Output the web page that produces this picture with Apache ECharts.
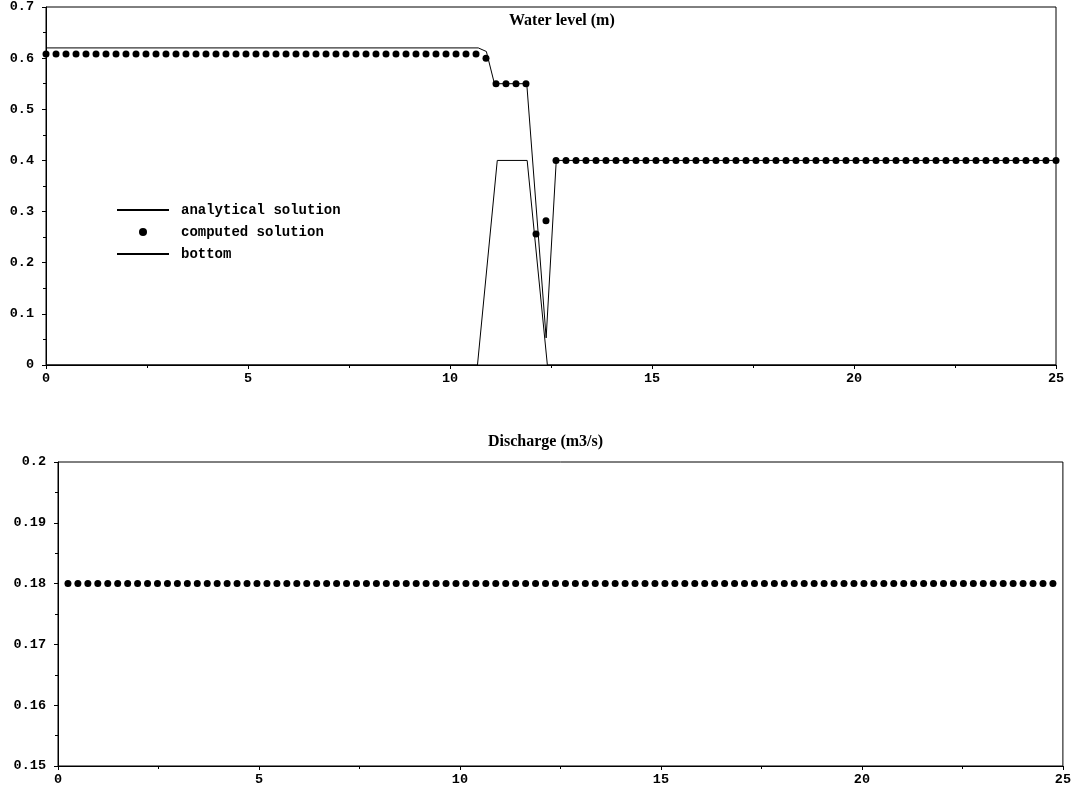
<!DOCTYPE html>
<html lang="en">
<head>
    <meta charset="UTF-8">
    <title>Water level and discharge</title>
    <script src="https://cdn.jsdelivr.net/npm/echarts@6/dist/echarts.min.js"></script>
    <script type="text/javascript">
        // mesh: 102 points from 0 to 25
        var meshStep = 25 / 101;
        var meshX = [];
        for (var i = 0; i <= 101; i++) {
            meshX.push(Math.round(i * meshStep * 1000) / 1000);
        }

        // computed water level at each mesh point
        var levelComputed = [
            0.608, 0.608, 0.608, 0.608, 0.608, 0.608, 0.608, 0.608, 0.608, 0.608, 0.608,
            0.608, 0.608, 0.608, 0.608, 0.608, 0.608, 0.608, 0.608, 0.608, 0.608, 0.608,
            0.608, 0.608, 0.608, 0.608, 0.608, 0.608, 0.608, 0.608, 0.608, 0.608, 0.608,
            0.608, 0.608, 0.608, 0.608, 0.608, 0.608, 0.608, 0.608, 0.608, 0.608, 0.608,
            0.600, 0.55, 0.55, 0.55, 0.55, 0.256, 0.282,
            0.4, 0.4, 0.4, 0.4, 0.4, 0.4, 0.4, 0.4, 0.4, 0.4,
            0.4, 0.4, 0.4, 0.4, 0.4, 0.4, 0.4, 0.4, 0.4, 0.4,
            0.4, 0.4, 0.4, 0.4, 0.4, 0.4, 0.4, 0.4, 0.4, 0.4,
            0.4, 0.4, 0.4, 0.4, 0.4, 0.4, 0.4, 0.4, 0.4, 0.4,
            0.4, 0.4, 0.4, 0.4, 0.4, 0.4, 0.4, 0.4, 0.4, 0.4,
            0.4
        ];

        // computed discharge (no dot on the two end points)
        var dischargeComputed = [
            '-',
            0.18, 0.18, 0.18, 0.18, 0.18, 0.18, 0.18, 0.18, 0.18, 0.18,
            0.18, 0.18, 0.18, 0.18, 0.18, 0.18, 0.18, 0.18, 0.18, 0.18,
            0.18, 0.18, 0.18, 0.18, 0.18, 0.18, 0.18, 0.18, 0.18, 0.18,
            0.18, 0.18, 0.18, 0.18, 0.18, 0.18, 0.18, 0.18, 0.18, 0.18,
            0.18, 0.18, 0.18, 0.18, 0.18, 0.18, 0.18, 0.18, 0.18, 0.18,
            0.18, 0.18, 0.18, 0.18, 0.18, 0.18, 0.18, 0.18, 0.18, 0.18,
            0.18, 0.18, 0.18, 0.18, 0.18, 0.18, 0.18, 0.18, 0.18, 0.18,
            0.18, 0.18, 0.18, 0.18, 0.18, 0.18, 0.18, 0.18, 0.18, 0.18,
            0.18, 0.18, 0.18, 0.18, 0.18, 0.18, 0.18, 0.18, 0.18, 0.18,
            0.18, 0.18, 0.18, 0.18, 0.18, 0.18, 0.18, 0.18, 0.18, 0.18,
            '-'
        ];

        // analytical solution and bed profile (breakpoints)
        var analyticalX = [0, 10.7, 10.9, 11.1, 11.9, 12.38, 12.63, 25];
        var analyticalY = [0.62, 0.62, 0.613, 0.55, 0.55, 0.053, 0.4, 0.4];
        var bottomX = [0, 10.68, 11.17, 11.91, 12.41, 25];
        var bottomY = [0, 0, 0.4, 0.4, 0, 0];

        function pairs(xs, ys) {
            var out = [];
            for (var k = 0; k < xs.length; k++) {
                if (ys[k] !== '-') out.push([xs[k], ys[k]]);
            }
            return out;
        }

        var monoFont = {fontFamily: 'Liberation Mono', fontWeight: 'bold', fontSize: 13.5, color: '#000'};
        var legendFont = {fontFamily: 'Liberation Mono', fontWeight: 'bold', fontSize: 14, color: '#000', padding: [0, 0, 0, 7]};
        var titleFont = {fontFamily: 'Liberation Serif', fontWeight: 'bold', fontSize: 16, color: '#000'};

        function xAxisOf(idx) {
            return {
                type: 'value', gridIndex: idx, min: 0, max: 25, interval: 5,
                axisLine: {lineStyle: {color: '#000', width: 1}},
                axisTick: {length: 4, lineStyle: {color: '#000'}},
                minorTick: {show: true, splitNumber: 2, length: 3, lineStyle: {color: '#000'}},
                splitLine: {show: false},
                axisLabel: Object.assign({margin: 7}, monoFont)
            };
        }

        function yAxisOf(idx, min, max, step) {
            return {
                type: 'value', gridIndex: idx, min: min, max: max, interval: step,
                axisLine: {show: true, lineStyle: {color: '#000', width: 1}},
                axisTick: {show: true, length: 4, lineStyle: {color: '#000'}},
                minorTick: {show: true, splitNumber: 2, length: 3, lineStyle: {color: '#000'}},
                splitLine: {show: false},
                axisLabel: Object.assign({margin: 12}, monoFont)
            };
        }

        window.onload = function () {
            var myChart = echarts.init(document.getElementById('myChart'));
            myChart.setOption({
                backgroundColor: '#fff',
                animation: false,
                title: [
                    {text: 'Water level (m)', left: 504, top: 8, textStyle: titleFont},
                    {text: 'Discharge (m3/s)', left: 483, top: 429, textStyle: titleFont}
                ],
                legend: {
                    orient: 'vertical',
                    left: 111, top: 198,
                    itemWidth: 52, itemHeight: 8, itemGap: 8,
                    textStyle: legendFont,
                    data: [
                        {name: 'analytical solution', itemStyle: {opacity: 0}},
                        {name: 'computed solution'},
                        {name: 'bottom', itemStyle: {opacity: 0}}
                    ]
                },
                grid: [
                    {left: 46, top: 7, width: 1010, height: 358, show: true, borderColor: '#000', borderWidth: 1},
                    {left: 58, top: 462, width: 1006, height: 304, show: true, borderColor: '#000', borderWidth: 1}
                ],
                xAxis: [xAxisOf(0), xAxisOf(1)],
                yAxis: [yAxisOf(0, 0, 0.7, 0.1), yAxisOf(1, 0.15, 0.2, 0.01)],
                series: [
                    {
                        name: 'analytical solution', type: 'line', xAxisIndex: 0, yAxisIndex: 0,
                        symbol: 'none', lineStyle: {color: '#000', width: 1}, itemStyle: {color: '#000'},
                        data: pairs(analyticalX, analyticalY)
                    },
                    {
                        name: 'computed solution', type: 'scatter', xAxisIndex: 0, yAxisIndex: 0,
                        symbolSize: 7, itemStyle: {color: '#000', opacity: 1},
                        data: pairs(meshX, levelComputed)
                    },
                    {
                        name: 'bottom', type: 'line', xAxisIndex: 0, yAxisIndex: 0,
                        symbol: 'none', lineStyle: {color: '#000', width: 1}, itemStyle: {color: '#000'},
                        data: pairs(bottomX, bottomY)
                    },
                    {
                        name: 'discharge', type: 'scatter', xAxisIndex: 1, yAxisIndex: 1,
                        symbolSize: 7, itemStyle: {color: '#000', opacity: 1},
                        data: pairs(meshX, dischargeComputed)
                    }
                ]
            });
        };
    </script>
</head>
<body style="margin:0">
<div style="width:1074px;height:791px" id="myChart"></div>
</body>
</html>
